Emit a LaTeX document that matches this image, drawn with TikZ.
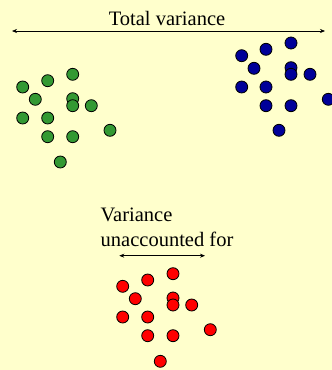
\documentclass[tikz,border=0pt]{standalone}
\usepackage{fontspec}
\setmainfont{Liberation Serif}
\usetikzlibrary{arrows.meta}
\usepackage{xcolor}
\definecolor{paper}{HTML}{FFFFCC}
\definecolor{grn}{HTML}{339933}
\definecolor{blu}{HTML}{000099}
\definecolor{rd}{HTML}{FF0000}

\tikzset{
  dot/.style={circle, draw=black, line width=0.8pt, minimum size=12pt, inner sep=0pt},
  gdot/.style={dot, fill=grn},
  bdot/.style={dot, fill=blu},
  rdot/.style={dot, fill=rd},
  span/.style={{Stealth[length=5pt,width=4pt]}-{Stealth[length=5pt,width=4pt]}, line width=0.6pt},
  lbl/.style={font=\fontsize{20.5}{25}\selectfont, inner sep=0pt}
}

\begin{document}
\begin{tikzpicture}[x=1pt, y=-1pt]
        \fill[paper] (0,0) rectangle (332,370);
        \useasboundingbox (0,0) rectangle (332,370);

        % --- Total variance (top) ---
        \node[lbl, anchor=base] (total) at (167,25) {Total variance};
        \coordinate (tl) at (12,31);
        \coordinate (tr) at (325,31);
        \draw[span] (tl) -- (tr);

        % --- green group ---
        \node[gdot] (g1)  at (22.7,87) {};
        \node[gdot] (g2)  at (47.7,80.7) {};
        \node[gdot] (g3)  at (72.7,74.3) {};
        \node[gdot] (g4)  at (35.3,99.3) {};
        \node[gdot] (g5)  at (72.7,98.7) {};
        \node[gdot] (g6)  at (72.7,105.7) {};
        \node[gdot] (g7)  at (91.3,105.7) {};
        \node[gdot] (g8)  at (22.7,118) {};
        \node[gdot] (g9)  at (47.7,118) {};
        \node[gdot] (g10) at (47.7,136.7) {};
        \node[gdot] (g11) at (72.7,136.7) {};
        \node[gdot] (g12) at (110,130.3) {};
        \node[gdot] (g13) at (60.3,162) {};

        % --- blue group ---
        \node[bdot] (b1)  at (241.7,55.7) {};
        \node[bdot] (b2)  at (266,49.3) {};
        \node[bdot] (b3)  at (291,43) {};
        \node[bdot] (b4)  at (254,68.3) {};
        \node[bdot] (b5)  at (291,67.7) {};
        \node[bdot] (b6)  at (291,74.3) {};
        \node[bdot] (b7)  at (310,74.3) {};
        \node[bdot] (b8)  at (241.7,87) {};
        \node[bdot] (b9)  at (266,87) {};
        \node[bdot] (b10) at (266,105.7) {};
        \node[bdot] (b11) at (291,105.7) {};
        \node[bdot] (b12) at (328.3,99.3) {};
        \node[bdot] (b13) at (279,130.3) {};

        % --- Variance unaccounted for (bottom) ---
        \node[lbl, anchor=base west] (vtop) at (100.5,221.7) {Variance};
        \node[lbl, anchor=base west] (vbot) at (100.5,246.7) {unaccounted for};
        \coordinate (ul) at (119.3,255.7);
        \coordinate (ur) at (205,255.7);
        \draw[span] (ul) -- (ur);

        % --- red group ---
        \node[rdot] (r1)  at (122.7,286.3) {};
        \node[rdot] (r2)  at (147.7,280) {};
        \node[rdot] (r3)  at (173,273.7) {};
        \node[rdot] (r4)  at (135.3,298.7) {};
        \node[rdot] (r5)  at (173,298) {};
        \node[rdot] (r6)  at (173,305) {};
        \node[rdot] (r7)  at (191.7,305) {};
        \node[rdot] (r8)  at (122.7,317) {};
        \node[rdot] (r9)  at (147.7,317) {};
        \node[rdot] (r10) at (147.7,335.7) {};
        \node[rdot] (r11) at (173,335.7) {};
        \node[rdot] (r12) at (210.3,329.7) {};
        \node[rdot] (r13) at (160.3,361.3) {};
\end{tikzpicture}
\end{document}
